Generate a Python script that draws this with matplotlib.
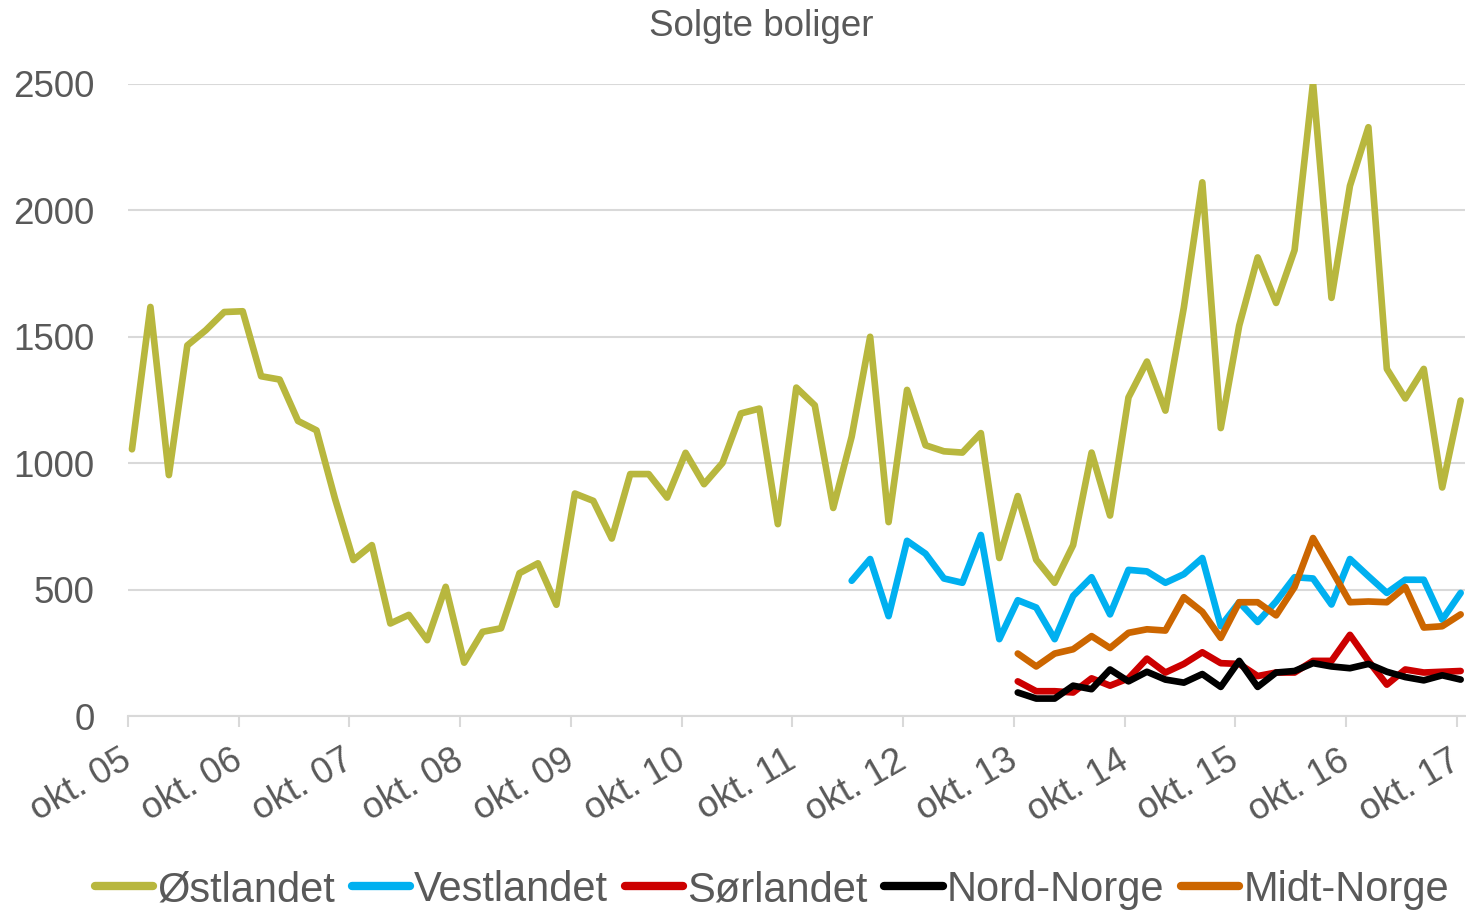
import numpy as np
import matplotlib
matplotlib.use('Agg')
import matplotlib.pyplot as plt
from matplotlib.transforms import ScaledTranslation

plt.rcParams['font.family'] = ['Liberation Sans', 'DejaVu Sans']

# bi-monthly values, okt. 05 -> okt. 17 (73 points)
ostlandet = [1055, 1618, 953, 1466, 1526, 1598, 1601, 1344, 1331, 1167, 1130, 860,
             617, 676, 366, 400, 300, 511, 211, 333, 347, 565, 604, 440,
             880, 851, 702, 957, 957, 864, 1041, 917, 1001, 1197, 1216, 759,
             1299, 1229, 823, 1105, 1500, 767, 1290, 1071, 1047, 1042, 1119, 625,
             870, 618, 527, 676, 1042, 793, 1260, 1402, 1208, 1616, 2111, 1139,
             1544, 1814, 1634, 1843, 2505, 1654, 2097, 2329, 1373, 1256, 1373, 904,
             1248]
# Vestlandet starts at point 39, the others at point 48
vestlandet = [535, 621, 395, 693, 642, 544, 527, 716, 304, 458, 429, 304,
              475, 549, 402, 578, 572, 527, 561, 625, 355, 450, 372, 453,
              549, 544, 441, 621, 553, 487, 539, 539, 381, 487]
sorlandet = [137, 98, 98, 93, 149, 120, 149, 227, 172, 206, 252, 209,
             206, 158, 172, 172, 218, 218, 321, 218, 124, 184, 172, 175, 178]
nord_norge = [93, 69, 69, 120, 106, 184, 137, 175, 144, 132, 166, 115,
              218, 115, 172, 178, 209, 196, 189, 206, 175, 154, 141, 161, 144]
midt_norge = [247, 196, 247, 264, 316, 269, 329, 343, 338, 470, 412, 309,
              450, 450, 398, 510, 704, 578, 450, 453, 450, 510, 350, 355, 402]

tick_labels = ['okt. 05', 'okt. 06', 'okt. 07', 'okt. 08', 'okt. 09', 'okt. 10', 'okt. 11',
               'okt. 12', 'okt. 13', 'okt. 14', 'okt. 15', 'okt. 16', 'okt. 17']

series = [
    ('Østlandet', ostlandet, '#B8B73E'),
    ('Vestlandet', vestlandet, '#00B0F0'),
    ('Sørlandet', sorlandet, '#CC0000'),
    ('Nord-Norge', nord_norge, '#000000'),
    ('Midt-Norge', midt_norge, '#CC6600'),
]

n_total = len(ostlandet)
months = 0.43 + 2 * np.arange(n_total)   # months after okt. 05
tick_pos = np.arange(0, 145, 12)

text_col = '#595959'
grid_col = '#D9D9D9'

fig = plt.figure(figsize=(14.66, 9.11), dpi=100)
ax = fig.add_axes([128 / 1466, 1 - 716 / 911, (1465 - 128) / 1466, (716 - 84) / 911])

for name, vals, col in series:
    x = months[n_total - len(vals):]
    ax.plot(x, vals, color=col, lw=4.8, label=name,
            solid_joinstyle='round', solid_capstyle='round')

ax.set_xlim(0, 144.9)
ax.set_ylim(0, 2500)
ax.set_yticks(np.arange(0, 2501, 500))
ax.set_xticks(tick_pos)
ax.set_xticklabels([])

# rotated month labels, drawn as text so they can be nudged
lab_tr = ax.get_xaxis_transform() + ScaledTranslation(-0.08, -0.27, fig.dpi_scale_trans)
for xp, lab in zip(tick_pos, tick_labels):
    ax.text(xp, 0, lab, transform=lab_tr, rotation=30, ha='right', va='top',
            rotation_mode='anchor', fontsize=26.5, color=text_col, clip_on=False)

ax.grid(axis='y', color=grid_col, lw=1.5)
ax.set_axisbelow(True)
for s in ['top', 'right', 'left']:
    ax.spines[s].set_visible(False)
ax.spines['bottom'].set_color(grid_col)
ax.spines['bottom'].set_linewidth(1.5)
ax.tick_params(axis='y', length=0, pad=24, labelsize=26.5, labelcolor=text_col)
ax.tick_params(axis='x', length=8, width=1.5, color=grid_col)

fig.text(761 / 1466, 1 - 27 / 911, 'Solgte boliger', ha='center', va='center',
         fontsize=26.5, color=text_col)

leg = fig.legend(loc='center', bbox_to_anchor=(772 / 1466, 1 - 890 / 911), ncol=5,
                 frameon=False, fontsize=30, handlelength=1.4, handletextpad=0.1,
                 columnspacing=0.4)
for t in leg.get_texts():
    t.set_color(text_col)
for h in leg.get_lines():
    h.set_linewidth(6)

fig.savefig('out.png', dpi=100)
